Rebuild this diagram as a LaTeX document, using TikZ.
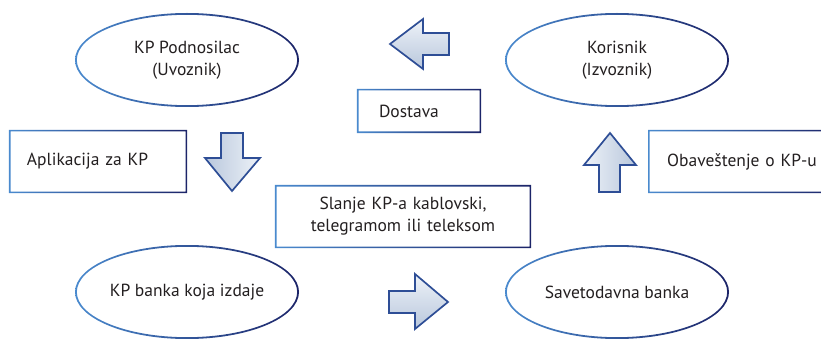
\documentclass[tikz,border=0pt]{standalone}
\usepackage{fontspec}
\setmainfont{PT Sans}
\usetikzlibrary{shapes.geometric}
\definecolor{lb}{RGB}{74,138,206}
\definecolor{nv}{RGB}{28,36,104}
\definecolor{arline}{RGB}{46,78,150}
\definecolor{afill}{RGB}{184,199,220}
\definecolor{alight}{RGB}{238,242,248}
\definecolor{txt}{RGB}{35,31,32}
\newcommand\ellring[1]{\shade[ring] (#1.center) ellipse [x radius=112pt, y radius=47pt] (#1.center) ellipse [x radius=110.2pt, y radius=45.2pt];}
\newcommand\boxring[1]{\shade[ring] (#1.north west) rectangle (#1.south east) ([xshift=1.7pt,yshift=-1.7pt]#1.north west) rectangle ([xshift=-1.7pt,yshift=1.7pt]#1.south east);}
\begin{document}
\begin{tikzpicture}[x=1pt,y=-1pt,
  font=\fontsize{17.5}{22}\selectfont, text=txt,
  ell/.style={ellipse, minimum width=224pt, minimum height=94pt, inner sep=0pt, align=center},
  box/.style={rectangle, inner xsep=18pt, inner ysep=0pt, align=left},
  ring/.style={left color=lb, right color=nv, even odd rule},
  blockar/.style={draw=arline, line width=1.7pt, line join=miter}]
\useasboundingbox (0,0) rectangle (821,339);
% ellipses
\node[ell] (imp) at (187,60) {KP Podnosilac\\(Uvoznik)};
\node[ell] (exp) at (617,60) {Korisnik\\(Izvoznik)};
\node[ell] (iss) at (187,292) {KP banka koja izdaje};
\node[ell] (adv) at (617,292) {Savetodavna banka};
\ellring{imp}\ellring{exp}\ellring{iss}\ellring{adv}
% boxes
\node[box, minimum width=116pt, minimum height=44pt, text width=80pt, inner xsep=22pt] (dost) at (419,111) {Dostava};
\node[box, minimum width=178pt, minimum height=63pt, text width=142pt] (apl) at (98,161.5) {Aplikacija za KP};
\node[box, minimum width=176pt, minimum height=63pt, text width=150pt, inner xsep=19pt, anchor=west] (obv) at (648,161.5) {Obaveštenje o KP-u};
\node[box, minimum width=254pt, minimum height=63pt, text width=220pt, align=center] (sl) at (403,216.5) {Slanje KP-a kablovski,\\telegramom ili teleksom};
\boxring{dost}\boxring{apl}\boxring{obv}\boxring{sl}
% block arrows
\filldraw[blockar, top color=alight, bottom color=afill] (390,44) -- (423,19) -- (423,33) -- (449,33) -- (449,55) -- (423,55) -- (423,69) -- cycle;
\filldraw[blockar, left color=afill, right color=alight] (221,133) -- (243,133) -- (243,158) -- (260,158) -- (232,191) -- (205,158) -- (221,158) -- cycle;
\filldraw[blockar, left color=alight, right color=afill] (610,133) -- (636,165) -- (620,165) -- (620,192) -- (599,192) -- (599,165) -- (584,165) -- cycle;
\filldraw[blockar, top color=alight, bottom color=afill] (389,291) -- (415,291) -- (415,274) -- (448,302) -- (415,329) -- (415,313) -- (389,313) -- cycle;
\end{tikzpicture}
\end{document}
